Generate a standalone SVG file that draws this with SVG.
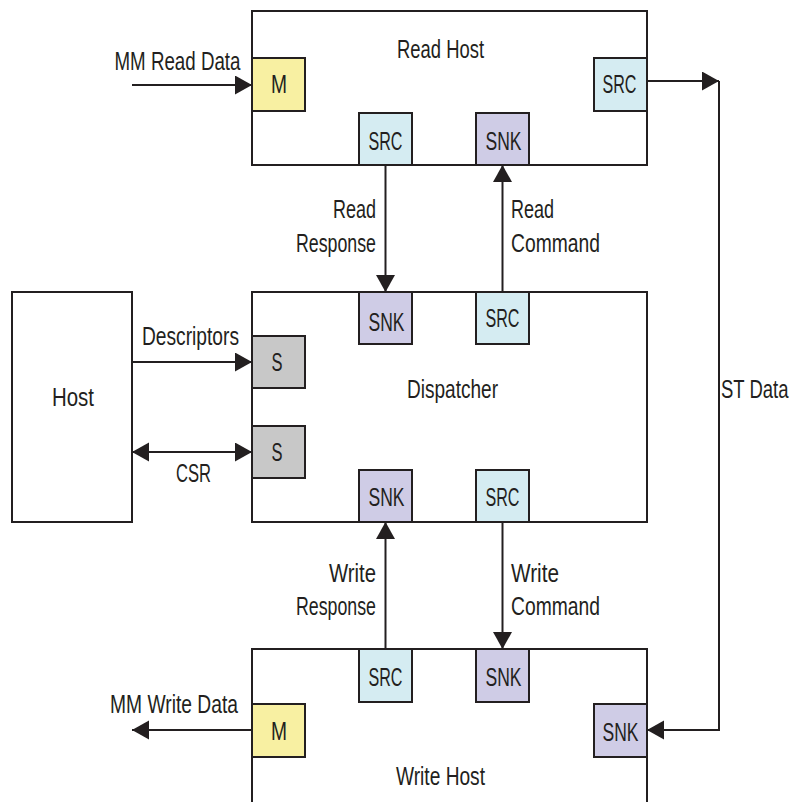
<svg xmlns="http://www.w3.org/2000/svg" width="791" height="802" viewBox="0 0 791 802">
<style>
text{font-family:"Liberation Sans",Arial,sans-serif;font-size:25px;fill:#231f20}
.box{fill:#fff;stroke:#231f20;stroke-width:2}
.port{stroke:#231f20;stroke-width:2}
.m{fill:#f8f0a2}.src{fill:#d5ecf2}.snk{fill:#cfcce6}.s{fill:#c8c8c8}
.c{text-anchor:middle}.e{text-anchor:end}
.ln{fill:none;stroke:#231f20;stroke-width:2}
</style>
<defs>
<marker id="ah" markerUnits="userSpaceOnUse" markerWidth="18" markerHeight="20" refX="17" refY="9.5" orient="auto-start-reverse" viewBox="0 0 18 20">
<path d="M0,0 L17,9.5 L0,19 z" fill="#231f20"/>
</marker>
</defs>
<g id="read-host">
<rect class="box" x="252" y="11" width="395" height="154"/>
<text class="c" x="440.5" y="58" textLength="87" lengthAdjust="spacingAndGlyphs">Read Host</text>
<rect class="port m" x="252" y="58" width="53" height="53"/><text class="c" x="279" y="93" textLength="16" lengthAdjust="spacingAndGlyphs">M</text>
<rect class="port src" x="359" y="113" width="53" height="52"/><text class="c" x="385.5" y="150" textLength="34" lengthAdjust="spacingAndGlyphs">SRC</text>
<rect class="port snk" x="476" y="113" width="53" height="52"/><text class="c" x="503.5" y="150" textLength="36" lengthAdjust="spacingAndGlyphs">SNK</text>
<rect class="port src" x="594" y="58" width="53" height="53"/><text class="c" x="619.5" y="93" textLength="34" lengthAdjust="spacingAndGlyphs">SRC</text>
</g>
<g id="dispatcher">
<rect class="box" x="252" y="292" width="395" height="230"/>
<text class="c" x="452.5" y="398" textLength="91" lengthAdjust="spacingAndGlyphs">Dispatcher</text>
<rect class="port snk" x="359" y="292" width="53" height="52"/><text class="c" x="386.5" y="331" textLength="36" lengthAdjust="spacingAndGlyphs">SNK</text>
<rect class="port src" x="476" y="292" width="53" height="52"/><text class="c" x="502.5" y="327" textLength="34" lengthAdjust="spacingAndGlyphs">SRC</text>
<rect class="port s" x="252" y="336" width="53" height="52"/><text class="c" x="277" y="371" textLength="11" lengthAdjust="spacingAndGlyphs">S</text>
<rect class="port s" x="252" y="426" width="53" height="52"/><text class="c" x="277" y="461" textLength="11" lengthAdjust="spacingAndGlyphs">S</text>
<rect class="port snk" x="359" y="470" width="53" height="52"/><text class="c" x="386.5" y="506" textLength="36" lengthAdjust="spacingAndGlyphs">SNK</text>
<rect class="port src" x="476" y="470" width="53" height="52"/><text class="c" x="502.5" y="506" textLength="34" lengthAdjust="spacingAndGlyphs">SRC</text>
</g>
<g id="host">
<rect class="box" x="12" y="292" width="120" height="230"/>
<text class="c" x="73" y="406" textLength="42" lengthAdjust="spacingAndGlyphs">Host</text>
</g>
<g id="write-host">
<path class="ln" d="M252,810 V649 H647 V810"/>
<text class="c" x="440.5" y="785" textLength="89" lengthAdjust="spacingAndGlyphs">Write Host</text>
<rect class="port src" x="359" y="649" width="53" height="53"/><text class="c" x="385.5" y="686" textLength="34" lengthAdjust="spacingAndGlyphs">SRC</text>
<rect class="port snk" x="476" y="649" width="53" height="53"/><text class="c" x="503.5" y="686" textLength="36" lengthAdjust="spacingAndGlyphs">SNK</text>
<rect class="port m" x="252" y="704" width="53" height="53"/><text class="c" x="279" y="740" textLength="16" lengthAdjust="spacingAndGlyphs">M</text>
<rect class="port snk" x="594" y="704" width="53" height="53"/><text class="c" x="620.5" y="741" textLength="36" lengthAdjust="spacingAndGlyphs">SNK</text>
</g>
<g id="connectors">
<path class="ln" d="M132,85 H252" marker-end="url(#ah)"/>
<text class="c" x="177.5" y="70" textLength="126" lengthAdjust="spacingAndGlyphs">MM Read Data</text>
<path class="ln" d="M647,81 H719" marker-end="url(#ah)"/>
<path class="ln" d="M719,81 V730 H647" marker-end="url(#ah)"/>
<text transform="translate(721,398) scale(0.74,1)">ST Data</text>
<path class="ln" d="M385.5,165 V292" marker-end="url(#ah)"/>
<text class="e" x="376" y="218" textLength="43" lengthAdjust="spacingAndGlyphs">Read</text>
<text class="e" x="376" y="252" textLength="80" lengthAdjust="spacingAndGlyphs">Response</text>
<path class="ln" d="M502.5,292 V165" marker-end="url(#ah)"/>
<text x="511" y="218" textLength="43" lengthAdjust="spacingAndGlyphs">Read</text>
<text x="511" y="252" textLength="89" lengthAdjust="spacingAndGlyphs">Command</text>
<path class="ln" d="M132,362 H252" marker-end="url(#ah)"/>
<text class="c" x="190.5" y="345" textLength="97" lengthAdjust="spacingAndGlyphs">Descriptors</text>
<path class="ln" d="M132,452 H252" marker-start="url(#ah)" marker-end="url(#ah)"/>
<text class="c" x="193.5" y="482" textLength="35" lengthAdjust="spacingAndGlyphs">CSR</text>
<path class="ln" d="M385.5,649 V522" marker-end="url(#ah)"/>
<text class="e" x="376" y="582" textLength="47" lengthAdjust="spacingAndGlyphs">Write</text>
<text class="e" x="376" y="615" textLength="80" lengthAdjust="spacingAndGlyphs">Response</text>
<path class="ln" d="M502.5,522 V649" marker-end="url(#ah)"/>
<text x="511" y="582" textLength="48" lengthAdjust="spacingAndGlyphs">Write</text>
<text x="511" y="615" textLength="89" lengthAdjust="spacingAndGlyphs">Command</text>
<path class="ln" d="M252,730 H132" marker-end="url(#ah)"/>
<text class="c" x="174" y="713" textLength="128" lengthAdjust="spacingAndGlyphs">MM Write Data</text>
</g>
</svg>
